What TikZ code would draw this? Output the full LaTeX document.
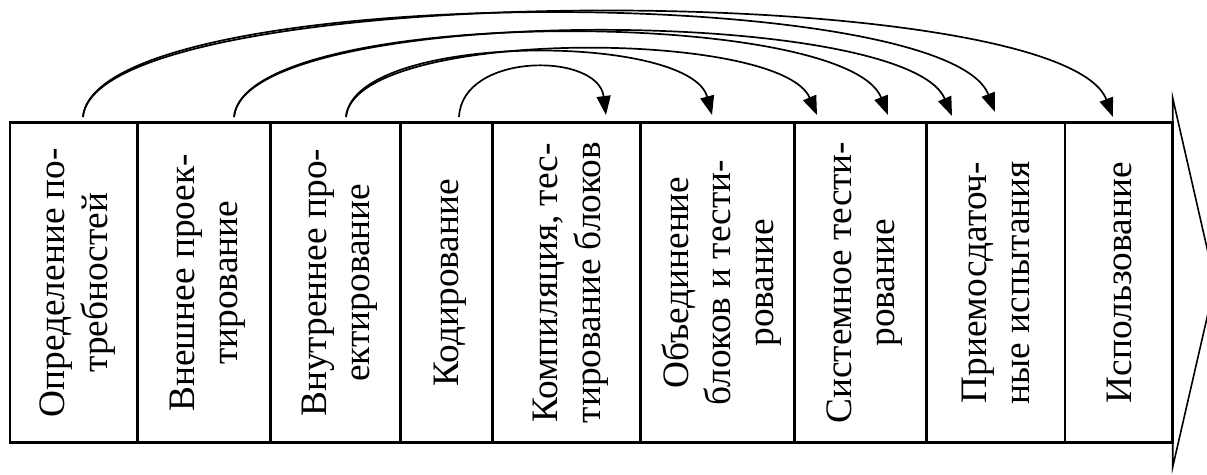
\documentclass[tikz,border=0pt]{standalone}
\usepackage{fontspec}
\setmainfont{Liberation Serif}
\newfontfamily\stagefont{Liberation Serif}
\usetikzlibrary{arrows.meta}
\begin{document}
\begin{tikzpicture}[x=1pt,y=-1pt,
  stage/.style={draw, line width=2.5pt, rotate=90, inner sep=0pt,
    minimum width=320pt, align=center, text depth=0pt,
    font=\stagefont\fontsize{37.33}{42.9}\selectfont},
  jump/.style={line width=1.7pt, -{Triangle[length=19pt,width=14pt]}},
  bigarrow/.style={draw, line width=1.6pt, line join=miter}
]
\useasboundingbox (0,0) rectangle (1207,474);
\clip (0,0) rectangle (1207,474);

% big arrow head on the right
\draw[bigarrow] (1172.7,98) -- (1215,283) -- (1172.7,467) -- cycle;

% stages
\node[stage, minimum height=127.7pt] (c1) at (73.85,282.7) {Определение по-\\требностей};
\node[stage, minimum height=133pt]   (c2) at (204.2,282.7) {Внешнее проек-\\тирование};
\node[stage, minimum height=130pt]   (c3) at (335.7,282.7) {Внутреннее про-\\ектирование};
\node[stage, minimum height=92pt]    (c4) at (446.7,282.7) {Кодирование};
\node[stage, minimum height=148pt]   (c5) at (566.7,282.7) {Компиляция, тес-\\тирование блоков};
\node[stage, minimum height=153.8pt] (c6) at (717.6,282.7) {Объединение\\блоков и тести-\\рование};
\node[stage, minimum height=132.2pt] (c7) at (860.6,282.7) {Системное тести-\\рование};
\node[stage, minimum height=138.3pt] (c8) at (995.85,282.7) {Приемосдаточ-\\ные испытания};
\node[stage, minimum height=107.7pt] (c9) at (1118.85,282.7) {Использование};

% connector ends
\coordinate (sA) at (83,117);
\coordinate (sB) at (234,117);
\coordinate (sC) at (346,117);
\coordinate (sD) at (459,117);
\coordinate (e1) at (606,115);
\coordinate (e2) at (712,115);
\coordinate (e3) at (817,115);
\coordinate (e4) at (888,115);
\coordinate (e5) at (952,116);
\coordinate (e6) at (995,112);
\coordinate (e7) at (1113,117);

\draw[jump] (sA) .. controls (95,-22) and (1060,-22) .. (e7);
\draw[jump] (sA) .. controls (95,-19) and (945,-19) .. (e6);
\draw[jump] (sB) .. controls (244,4) and (905,4) .. (e5);
\draw[jump] (sB) .. controls (244,6) and (845,6) .. (e4);
\draw[jump] (sC) .. controls (354,28) and (780,28) .. (e3);
\draw[jump] (sC) .. controls (354,32) and (690,32) .. (e2);
\draw[jump] (sD) .. controls (462,52) and (598,52) .. (e1);
\end{tikzpicture}
\end{document}
